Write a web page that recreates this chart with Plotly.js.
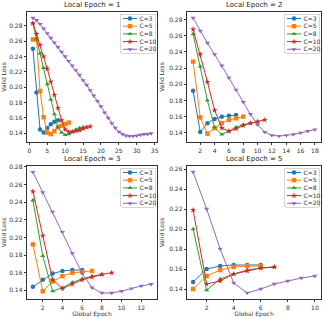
<!DOCTYPE html>
<html><head><meta charset="utf-8">
<script src="https://cdn.plot.ly/plotly-3.0.1.min.js"></script>
<style>html,body{margin:0;padding:0;background:#fff}#chart{width:325px;height:319px}</style>
</head><body><div id="chart"></div>
<script>
const seriesNames = ["C=3","C=5","C=8","C=10","C=20"];
const colors = ["#1f77b4","#ff7f0e","#2ca02c","#d62728","#9467bd"];
const symbols = ["circle","square","triangle-up","star","triangle-down"];
const panelTitles = ["Local Epoch = 1","Local Epoch = 2","Local Epoch = 3","Local Epoch = 5"];

// Local Epoch = 1
const le1_c3  = [0.250,0.193,0.145,0.141,0.147,0.152,0.155,0.157];
const le1_c5  = [0.262,0.262,0.195,0.161,0.141,0.139,0.143,0.148,0.150,0.152,0.154];
const le1_c8  = [0.283,0.263,0.244,0.225,0.204,0.184,0.165,0.148,0.141,0.138,0.139,0.142,0.145,0.147,0.148];
const le1_c10 = [0.283,0.269,0.255,0.240,0.224,0.207,0.190,0.173,0.157,0.145,0.142,0.142,0.143,0.144,0.146,0.148,0.149];
const le1_c20 = [0.290,0.287,0.282,0.276,0.270,0.264,0.258,0.252,0.246,0.240,0.234,0.228,0.222,0.216,0.209,0.203,0.196,0.189,0.182,0.175,0.167,0.160,0.153,0.147,0.142,0.139,0.137,0.1365,0.1365,0.137,0.138,0.139,0.139,0.140];
// Local Epoch = 2
const le2_c3  = [0.192,0.141,0.152,0.157,0.160,0.161,0.162];
const le2_c5  = [0.228,0.159,0.139,0.146,0.152,0.156,0.158,0.160];
const le2_c8  = [0.262,0.222,0.180,0.147,0.138,0.142,0.147,0.150,0.152,0.153];
const le2_c10 = [0.268,0.237,0.203,0.168,0.146,0.142,0.145,0.149,0.152,0.154,0.156];
const le2_c20 = [0.282,0.266,0.251,0.237,0.223,0.208,0.193,0.178,0.163,0.150,0.141,0.137,0.136,0.137,0.138,0.140,0.142,0.144];
// Local Epoch = 3
const le3_c3  = [0.144,0.152,0.159,0.162,0.163,0.163];
const le3_c5  = [0.192,0.139,0.150,0.156,0.160,0.161,0.162];
const le3_c8  = [0.242,0.179,0.139,0.143,0.149,0.153,0.156,0.158];
const le3_c10 = [0.252,0.202,0.152,0.142,0.147,0.152,0.155,0.158,0.160];
const le3_c20 = [0.274,0.251,0.229,0.206,0.182,0.159,0.143,0.137,0.137,0.139,0.142,0.145,0.147];
// Local Epoch = 5
const le5_c3  = [0.147,0.160,0.163,0.164,0.164,0.164];
const le5_c5  = [0.140,0.153,0.159,0.162,0.163,0.163];
const le5_c8  = [0.200,0.139,0.150,0.155,0.159,0.161,0.162];
const le5_c10 = [0.219,0.145,0.148,0.155,0.158,0.161,0.162];
const le5_c20 = [0.257,0.220,0.180,0.146,0.136,0.140,0.145,0.148,0.151,0.153];

const panels = [
  [le1_c3,le1_c5,le1_c8,le1_c10,le1_c20],
  [le2_c3,le2_c5,le2_c8,le2_c10,le2_c20],
  [le3_c3,le3_c5,le3_c8,le3_c10,le3_c20],
  [le5_c3,le5_c5,le5_c8,le5_c10,le5_c20]
];

const W=325,H=319;
const boxes = [ // left,right,top,bottom px
  [27,157,12,142],[187,321,12,142],[27,157,166,299],[187,321,166,299]
];
const xcfg = [
  {range:[-0.65,35.65], dtick:5, tick0:0},
  {range:[0.15,18.85], dtick:2, tick0:0},
  {range:[0.4,13.6], dtick:2, tick0:0},
  {range:[0.55,10.45], dtick:2, tick0:0}
];
const ycfg = [
  {range:[0.1288,0.2977]},
  {range:[0.1287,0.2893]},
  {range:[0.1302,0.2809]},
  {range:[0.1300,0.2630]}
];

const font = {family:"DejaVu Sans", size:6, color:"#333"};
const traces=[]; const layout={width:W,height:H,margin:{l:0,r:0,t:0,b:0},paper_bgcolor:"#fff",plot_bgcolor:"#fff",font:font,annotations:[],showlegend:true};

panels.forEach((series,p)=>{
  const ax = p===0?"":String(p+1);
  const lg = p===0?"legend":"legend"+(p+1);
  series.forEach((ys,i)=>{
    traces.push({
      x: ys.map((_,k)=>k+1), y: ys, mode:"lines+markers", name:seriesNames[i],
      xaxis:"x"+ax, yaxis:"y"+ax, legend:lg,
      line:{color:colors[i],width:1},
      marker:{color:colors[i],symbol:symbols[i],size:4.5,line:{width:0}}
    });
  });
  const b=boxes[p];
  const xd=[b[0]/W,b[1]/W], yd=[1-b[3]/H,1-b[2]/H];
  const common={showline:true,mirror:true,linecolor:"#000",linewidth:0.8,ticks:"outside",ticklen:2.5,tickwidth:0.8,tickcolor:"#000",showgrid:false,zeroline:false,tickfont:font};
  layout["xaxis"+ax]=Object.assign({},common,{domain:xd,anchor:"y"+ax,range:xcfg[p].range,dtick:xcfg[p].dtick,tick0:xcfg[p].tick0,
     title: p>=2?{text:"Global Epoch",font:font,standoff:1}:{text:""}});
  layout["yaxis"+ax]=Object.assign({},common,{domain:yd,anchor:"x"+ax,range:ycfg[p].range,dtick:0.02,tick0:0,tickformat:".2f",
     title:{text:"Valid Loss",font:font,standoff:3}});
  layout[lg]={x:xd[1]-1/W,y:yd[1]-2/H,xanchor:"right",yanchor:"top",xref:"paper",yref:"paper",
     bgcolor:"rgba(255,255,255,0.8)",bordercolor:"#ccc",borderwidth:0.8,font:{family:"DejaVu Sans",size:6,color:"#333"},
     itemwidth:30,tracegroupgap:0};
  layout.annotations.push({text:panelTitles[p],xref:"paper",yref:"paper",x:(xd[0]+xd[1])/2,y:yd[1]+1/H,xanchor:"center",yanchor:"bottom",showarrow:false,font:{family:"DejaVu Sans",size:7,color:"#222"}});
});

Plotly.newPlot("chart",traces,layout,{staticPlot:true,displayModeBar:false}).then(()=>{compactLegends(); setTimeout(compactLegends,50);});

// compact legend layout (matplotlib-like spacing), placed at each panel's top-right corner
function compactLegends(){
  const BW=35, BH=39, TOP=4.5, STEP=7.7, TX=19;
  const legends = Array.from(document.querySelectorAll('g.infolayer > g')).filter(g=>/^legend\d*$/.test(g.getAttribute('class')||''));
  legends.forEach((lg)=>{
    const cls = lg.getAttribute('class');
    const p = cls==='legend'?0:parseInt(cls.slice(6))-1;
    const b = boxes[p];
    const bg = lg.querySelector('rect.bg');
    if(!bg) return;
    lg.setAttribute('transform',`translate(${b[1]-1.5-BW},${b[2]+2})`);
    bg.setAttribute('x',0); bg.setAttribute('y',0);
    bg.setAttribute('width',BW); bg.setAttribute('height',BH);
    bg.setAttribute('rx',1.5); bg.setAttribute('ry',1.5);
    lg.querySelectorAll('g.scrollbox').forEach(sb=>{ sb.setAttribute('transform','translate(0,0)'); sb.removeAttribute('clip-path'); });
    lg.removeAttribute('clip-path');
    lg.querySelectorAll('g.groups').forEach(g=>g.setAttribute('transform','translate(0,0)'));
    lg.querySelectorAll('g.traces').forEach((t,i)=>{
      t.setAttribute('transform',`translate(0,${TOP+i*STEP})`);
      t.querySelectorAll('g.legendlines path').forEach(pp=>pp.setAttribute('d','M2.5,0h14'));
      t.querySelectorAll('g.legendpoints path').forEach(pp=>pp.setAttribute('transform','translate(9.5,0)'));
      t.querySelectorAll('text').forEach(tx=>{
        tx.removeAttribute('transform');
        tx.setAttribute('x',TX); tx.setAttribute('y',2);
        tx.querySelectorAll('tspan').forEach(ts=>{ if(ts.hasAttribute('x')) ts.setAttribute('x',TX); });
      });
    });
  });
}
</script></body></html>
